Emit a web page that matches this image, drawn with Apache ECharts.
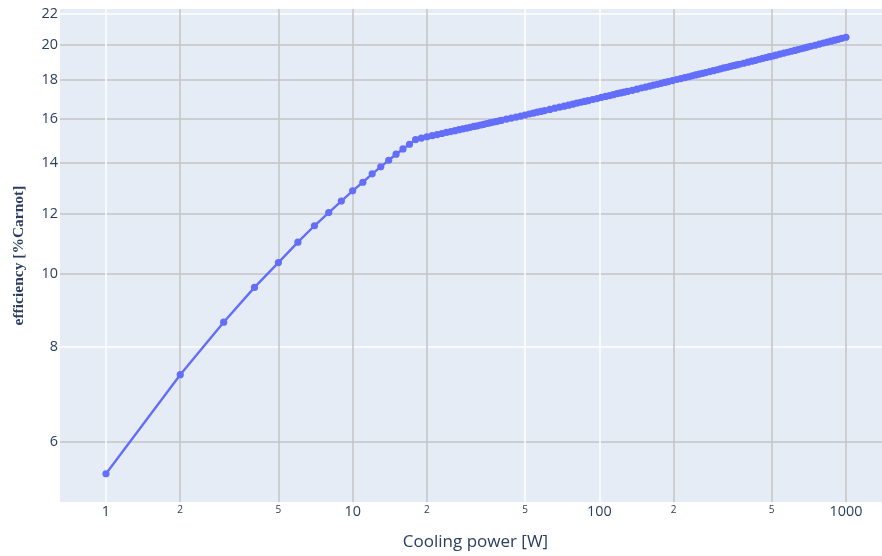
<!DOCTYPE html>
<html>
<head>
<meta charset="utf-8">
<script src="https://cdn.jsdelivr.net/npm/echarts@6/dist/echarts.min.js"></script>
<style>
html,body{margin:0;padding:0;background:#fff;}
#chart{width:882px;height:556px;}
</style>
</head>
<body>
<div id="chart"></div>
<script>
// Cooling power [W]
const coolingPower = [
  1,2,3,4,5,6,7,8,9,10,11,12,13,14,15,16,17,18,19,20,
  21,22,23,24,25,26,27,28,29,30,31,32,33,34,35,36,37,38,39,40,
  42,44,46,48,50,52,54,56,58,60,
  63,66,69,72,75,78,81,84,87,90,
  94,98,102,106,110,114,118,122,126,130,
  136,142,148,154,160,166,172,178,184,190,
  198,206,214,222,230,238,246,254,262,270,
  280,290,300,310,320,330,340,350,360,370,
  385,400,415,430,445,460,475,490,505,520,
  540,560,580,600,620,640,660,680,700,720,
  750,780,810,840,870,900,930,960,1000
];
// efficiency [%Carnot]
const efficiency = [
  5.45,7.36,8.63,9.59,10.34,11.00,11.56,12.03,12.46,12.85,13.19,13.53,13.82,14.10,14.36,14.59,14.80,15.01,15.08,15.14,
  15.19,15.24,15.29,15.34,15.38,15.42,15.47,15.51,15.54,15.58,15.62,15.65,15.69,15.72,15.76,15.79,15.82,15.85,15.88,15.91,
  15.97,16.02,16.07,16.12,16.17,16.22,16.26,16.31,16.35,16.39,
  16.45,16.51,16.56,16.61,16.66,16.71,16.76,16.81,16.85,16.89,
  16.95,17.00,17.06,17.11,17.15,17.20,17.25,17.29,17.33,17.37,
  17.43,17.49,17.55,17.60,17.65,17.71,17.75,17.80,17.85,17.89,
  17.95,18.01,18.06,18.11,18.16,18.21,18.26,18.31,18.35,18.39,
  18.45,18.50,18.55,18.60,18.65,18.69,18.74,18.78,18.82,18.86,
  18.92,18.98,19.04,19.09,19.15,19.20,19.25,19.30,19.34,19.39,
  19.45,19.51,19.56,19.62,19.67,19.72,19.77,19.82,19.87,19.92,
  19.98,20.05,20.11,20.17,20.23,20.29,20.34,20.40,20.47
];
const xTicks = [1,2,5,10,20,50,100,200,500,1000];
const xMajor = [1,10,100,1000];
const yTicks = [6,8,10,12,14,16,18,20,22];

const G = '#c4c4c4', W = '#ffffff';
const xGridColors = [W,G,G,G,G,W,W,G,G,G];
const yGridColors = [G,W,G,G,G,G,G,G,W];

const chart = echarts.init(document.getElementById('chart'));
chart.setOption({
  animation: false,
  backgroundColor: '#ffffff',
  grid: {left: 60, right: 0, top: 9, bottom: 53, show: true, backgroundColor: '#e5ecf6', borderWidth: 0},
  xAxis: {
    type: 'log', logBase: 10, min: 0.651, max: 1400,
    axisLine: {show: false}, axisTick: {show: false, customValues: xTicks},
    axisLabel: {
      customValues: xTicks, margin: 3, color: '#2a3f5f', fontFamily: 'Open Sans',
      formatter: function (v) {
        const r = Math.round(v);
        if (xMajor.indexOf(r) >= 0) return '{a|' + r + '}';
        return '{b|' + String(r).charAt(0) + '}';
      },
      rich: {
        a: {fontSize: 14.4, fontFamily: 'Open Sans', color: '#2a3f5f'},
        b: {fontSize: 10, fontFamily: 'Open Sans', color: '#2a3f5f'}
      }
    },
    splitLine: {show: true, lineStyle: {color: xGridColors, width: 1.5}},
    name: 'Cooling power [W]', nameLocation: 'middle', nameGap: 32,
    nameTextStyle: {fontFamily: 'Open Sans', fontSize: 17, color: '#2a3f5f', padding: [0, 0, 0, 9]}
  },
  yAxis: {
    type: 'log', logBase: 10, min: 5.004, max: 22.30,
    axisLine: {show: false}, axisTick: {show: false, customValues: yTicks},
    axisLabel: {
      customValues: yTicks, margin: 2, color: '#2a3f5f', fontFamily: 'Open Sans', fontSize: 14.4,
      formatter: function (v) { return String(Math.round(v)); }
    },
    splitLine: {show: true, lineStyle: {color: yGridColors, width: 1.5}},
    name: 'efficiency [%Carnot]', nameLocation: 'middle', nameGap: 33, nameRotate: 90,
    nameTextStyle: {fontFamily: 'Liberation Serif', fontWeight: 'bold', fontSize: 15.5, color: '#2a3f5f'}
  },
  series: [{
    type: 'line',
    data: coolingPower.map((x, i) => [x, efficiency[i]]),
    symbol: 'circle', symbolSize: 7.2, showSymbol: true,
    lineStyle: {color: '#636efa', width: 2.4},
    itemStyle: {color: '#636efa'},
    emphasis: {disabled: true}
  }]
});
</script>
</body>
</html>
